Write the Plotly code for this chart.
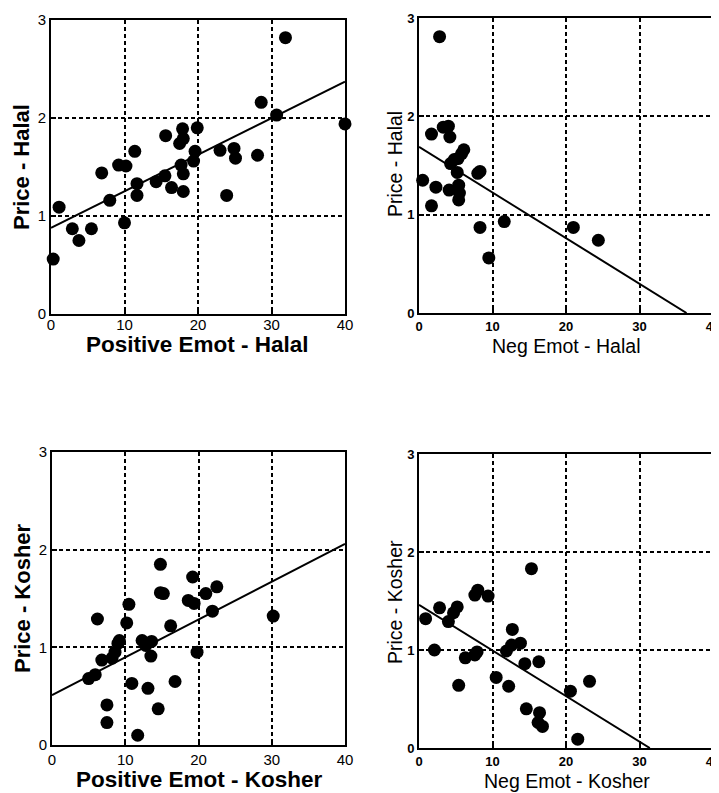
import plotly.graph_objects as go

# ---- data ----
halal_pos_x = [0.3, 1.1, 2.9, 3.8, 5.5, 6.9, 8.0, 9.2, 10.2, 10.0, 11.4, 11.7, 11.7, 14.3, 15.6, 15.5,
               16.4, 17.5, 17.9, 18.0, 17.7, 18.0, 18.0, 19.9, 19.6, 19.4, 23.0, 23.9, 24.9, 25.1,
               28.1, 28.6, 30.7, 31.9, 40.0]
halal_pos_y = [0.56, 1.09, 0.87, 0.75, 0.87, 1.44, 1.16, 1.52, 1.51, 0.93, 1.66, 1.33, 1.21, 1.35, 1.82, 1.41,
               1.29, 1.74, 1.89, 1.79, 1.52, 1.43, 1.25, 1.90, 1.66, 1.56, 1.67, 1.21, 1.69, 1.59,
               1.62, 2.16, 2.03, 2.82, 1.94]

halal_neg_x = [2.8, 1.7, 3.3, 4.0, 4.2, 0.5, 2.3, 1.7, 4.1, 4.3, 4.8, 5.3, 5.8, 6.1, 5.2, 5.4, 5.5, 5.4,
               8.0, 8.3, 8.3, 9.5, 11.6, 21.0, 24.4]
halal_neg_y = [2.81, 1.82, 1.89, 1.90, 1.79, 1.35, 1.28, 1.09, 1.25, 1.52, 1.56, 1.57, 1.62, 1.66, 1.43, 1.30,
               1.22, 1.15, 1.42, 1.44, 0.87, 0.56, 0.93, 0.87, 0.74]

kosher_pos_x = [5.0, 5.9, 6.2, 6.8, 7.5, 7.5, 8.2, 8.6, 9.0, 9.2, 10.2, 10.5, 10.9, 11.7, 12.3, 12.8, 13.1,
                13.6, 13.5, 14.5, 14.8, 14.8, 15.2, 16.2, 16.8, 18.6, 19.2, 19.4, 19.8, 21.0, 21.9, 22.5, 30.2]
kosher_pos_y = [0.68, 0.72, 1.29, 0.87, 0.41, 0.23, 0.89, 0.95, 1.04, 1.07, 1.25, 1.44, 0.63, 0.10, 1.07, 1.02,
                0.58, 1.06, 0.91, 0.37, 1.85, 1.56, 1.55, 1.22, 0.65, 1.48, 1.72, 1.45, 0.95, 1.55, 1.37, 1.62, 1.32]

kosher_neg_x = [0.9, 2.1, 2.8, 4.0, 4.7, 5.2, 5.4, 6.3, 7.6, 8.0, 7.6, 7.9, 9.4, 10.5, 11.9, 12.2, 12.7,
                12.6, 13.8, 14.4, 14.6, 15.3, 16.3, 16.4, 16.2, 16.8, 20.6, 23.2, 21.6]
kosher_neg_y = [1.32, 1.00, 1.43, 1.29, 1.38, 1.44, 0.64, 0.92, 1.56, 1.61, 0.95, 0.98, 1.55, 0.72, 0.99, 0.63,
                1.21, 1.05, 1.07, 0.86, 0.40, 1.83, 0.88, 0.36, 0.26, 0.22, 0.58, 0.68, 0.09]

# fitted lines (end points)
halal_pos_fit_x = [0, 40]
halal_pos_fit_y = [0.88, 2.37]
halal_neg_fit_x = [0, 36.4]
halal_neg_fit_y = [1.69, 0.0]
kosher_pos_fit_x = [0, 40]
kosher_pos_fit_y = [0.51, 2.06]
kosher_neg_fit_x = [0, 31.4]
kosher_neg_fit_y = [1.46, 0.0]

x_ticks = [0, 10, 20, 30, 40]
y_ticks = [0, 1, 2, 3]

# the page body adds an 8px margin; positions below are given in window pixels
OFF = 8
W, H = 719 - OFF, 793 - OFF
FONT = "Arial, Liberation Sans, sans-serif"

panels = [
    # x, y, fitx, fity, xtitle, ytitle, bold, plot box (x0,x1,y0,y1), xtitle pos, ytitle pos, tick standoff
    (halal_pos_x, halal_pos_y, halal_pos_fit_x, halal_pos_fit_y,
     "Positive Emot - Halal", "Price - Halal", True, (51, 345, 20, 314), (198, 344), (22, 167), -4),
    (halal_neg_x, halal_neg_y, halal_neg_fit_x, halal_neg_fit_y,
     "Neg Emot - Halal", "Price - Halal", False, (419, 713, 18, 313), (566, 346), (395, 164), 0),
    (kosher_pos_x, kosher_pos_y, kosher_pos_fit_x, kosher_pos_fit_y,
     "Positive Emot - Kosher", "Price - Kosher", True, (52, 345, 452, 745), (200, 779), (22, 598), 0),
    (kosher_neg_x, kosher_neg_y, kosher_neg_fit_x, kosher_neg_fit_y,
     "Neg Emot - Kosher", "Price - Kosher", False, (419, 713, 454, 748), (567, 781), (395, 602), 0),
]


def px_x(v):
    return (v - OFF) / W


def px_y(v):
    return 1 - (v - OFF) / H


fig = go.Figure()
layout = {}
annotations = []
for i, (px_, py_, fx, fy, xt, yt, bold, (x0, x1, y0, y1), xtp, ytp, tstand) in enumerate(panels):
    n = "" if i == 0 else str(i + 1)
    xa, ya = "x" + n, "y" + n
    fig.add_trace(go.Scatter(x=fx, y=fy, mode="lines", xaxis=xa, yaxis=ya,
                             line=dict(color="black", width=2), showlegend=False, hoverinfo="skip"))
    fig.add_trace(go.Scatter(x=px_, y=py_, mode="markers", xaxis=xa, yaxis=ya, cliponaxis=False,
                             marker=dict(color="black", size=13, line=dict(width=0)), showlegend=False))
    if bold:
        tickfont = dict(family=FONT, size=15, color="black")
        xtitlefont = dict(family=FONT, size=22.5, color="black", weight="bold")
        ytitlefont = dict(family=FONT, size=22, color="black", weight="bold")
    else:
        tickfont = dict(family=FONT, size=13, color="black", weight="bold")
        xtitlefont = dict(family=FONT, size=19.5, color="black")
        ytitlefont = dict(family=FONT, size=19.5, color="black")
    common = dict(showgrid=True, gridcolor="black", gridwidth=1.6, griddash="4px,3px",
                  showline=True, linecolor="black", linewidth=2, mirror=True,
                  ticks="inside", ticklen=5, tickcolor="black", tickwidth=1.5,
                  zeroline=False, tickfont=tickfont, automargin=False,
                  ticklabeloverflow="allow")
    layout["xaxis" + n] = dict(common, domain=[px_x(x0), px_x(x1)], anchor=ya, range=[0, 40],
                               tickvals=x_ticks, ticklabelstandoff=tstand)
    layout["yaxis" + n] = dict(common, domain=[px_y(y1), px_y(y0)], anchor=xa, range=[0, 3],
                               tickvals=y_ticks)
    annotations.append(dict(text=xt, xref="paper", yref="paper", x=px_x(xtp[0]), y=px_y(xtp[1]),
                            xanchor="center", yanchor="middle", showarrow=False, font=xtitlefont))
    annotations.append(dict(text=yt, xref="paper", yref="paper", x=px_x(ytp[0]), y=px_y(ytp[1]),
                            xanchor="center", yanchor="middle", showarrow=False, textangle=-90,
                            font=ytitlefont))

fig.update_layout(width=W, height=H, margin=dict(l=0, r=0, t=0, b=0, autoexpand=False),
                  paper_bgcolor="white", plot_bgcolor="white", annotations=annotations, **layout)
fig.write_html("out.html")
